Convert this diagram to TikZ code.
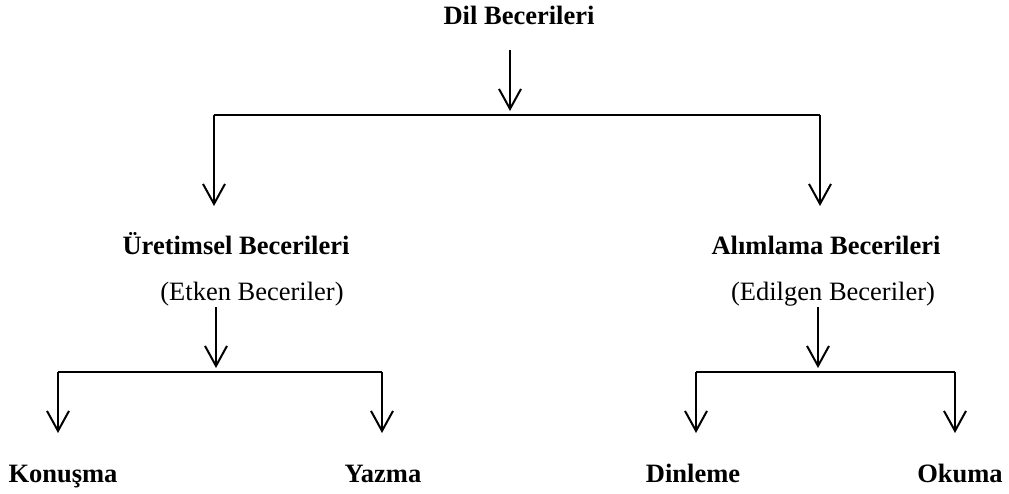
\documentclass[tikz,border=0pt]{standalone}
\usepackage{fontspec}
\setmainfont{Liberation Serif}
\usetikzlibrary{arrows.meta}
\begin{document}
\begin{tikzpicture}[x=1pt,y=-1pt,
  lbl/.style={inner sep=0pt, anchor=base, font=\fontsize{26.5}{30}\selectfont\bfseries},
  sub/.style={inner sep=0pt, anchor=base, font=\fontsize{26.5}{30}\selectfont},
  conn/.style={line width=2pt},
  arr/.style={line width=2pt, -{Straight Barb[length=20pt,width=22pt,line width=2pt]}}]
\useasboundingbox (0,0) rectangle (1009,493);
% texts
\node[lbl] (dil) at (519,24) {Dil Becerileri};
\node[lbl] (ure) at (236,254) {Üretimsel Becerileri};
\node[sub] (etk) at (252,300) {(Etken Beceriler)};
\node[lbl] (ali) at (826,254) {Alımlama Becerileri};
\node[sub] (edi) at (833,300) {(Edilgen Beceriler)};
\node[lbl] (kon) at (63,482) {Konuşma};
\node[lbl] (yaz) at (383,482) {Yazma};
\node[lbl] (din) at (693,482) {Dinleme};
\node[lbl] (oku) at (960,482) {Okuma};
% coordinates
\coordinate (a0) at (510,50);
\coordinate (a1) at (510,111);
\coordinate (h1) at (510,115);
\coordinate (hl) at (214,115);
\coordinate (hr) at (820,115);
\coordinate (tl) at (214,206);
\coordinate (tr) at (820,206);
\coordinate (b0) at (216,307);
\coordinate (b1) at (216,368);
\coordinate (bl) at (58,372);
\coordinate (br) at (382,372);
\coordinate (c0) at (818,307);
\coordinate (c1) at (818,368);
\coordinate (cl) at (696,372);
\coordinate (cr) at (955,372);
% connectors
\draw[arr] (a0) -- (a1);
\draw[conn] (hl) -- (hr);
\draw[arr] (hl) -- (tl);
\draw[arr] (hr) -- (tr);
\draw[arr] (b0) -- (b1);
\draw[conn] (bl) -- (br);
\draw[arr] (bl) -- (bl |- 0,433);
\draw[arr] (br) -- (br |- 0,433);
\draw[arr] (c0) -- (c1);
\draw[conn] (cl) -- (cr);
\draw[arr] (cl) -- (cl |- 0,433);
\draw[arr] (cr) -- (cr |- 0,433);
\end{tikzpicture}
\end{document}
